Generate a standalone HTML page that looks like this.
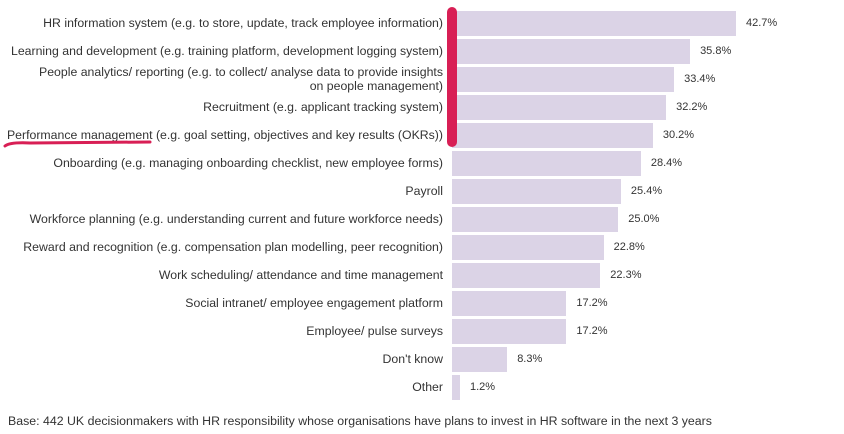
<!DOCTYPE html>
<html><head><style>
body{margin:0;background:#fff;width:844px;height:434px;overflow:hidden;position:relative;font-family:"Liberation Sans",Arial,sans-serif;color:#333}
.l{position:absolute;right:401px;font-size:12.3px;text-align:right;line-height:14px;white-space:nowrap}
.b{position:absolute;left:452px;height:25px;background:#dbd3e6}
.v{position:absolute;font-size:11px;line-height:13px}
</style></head><body>
<div id="c"></div>
<div style="position:absolute;left:447px;top:7px;width:10px;height:140px;background:#d81f55;border-radius:5px"></div>
<svg style="position:absolute;left:0;top:0" width="844" height="434"><path d="M5 146 Q10 142 30 143 L150 142" stroke="#d81f55" stroke-width="3" fill="none" stroke-linecap="round"/></svg>
<div style="position:absolute;left:8px;top:414px;font-size:12.35px">Base: 442 UK decisionmakers with HR responsibility whose organisations have plans to invest in HR software in the next 3 years</div>
<script>
var d=[["HR information system (e.g. to store, update, track employee information)",42.7],
["Learning and development (e.g. training platform, development logging system)",35.8],
["People analytics/ reporting (e.g. to collect/ analyse data to provide insights<br>on people management)",33.4],
["Recruitment (e.g. applicant tracking system)",32.2],
["Performance management (e.g. goal setting, objectives and key results (OKRs))",30.2],
["Onboarding (e.g. managing onboarding checklist, new employee forms)",28.4],
["Payroll",25.4],
["Workforce planning (e.g. understanding current and future workforce needs)",25.0],
["Reward and recognition (e.g. compensation plan modelling, peer recognition)",22.8],
["Work scheduling/ attendance and time management",22.3],
["Social intranet/ employee engagement platform",17.2],
["Employee/ pulse surveys",17.2],
["Don't know",8.3],["Other",1.2]];
var h="";d.forEach(function(r,i){var t=11+28*i,w=r[1]*6.65,two=r[0].indexOf("<br>")>0;
h+='<div class="b" style="top:'+t+'px;width:'+w+'px"></div>';
h+='<div class="v" style="top:'+(t+6)+'px;left:'+(452+w+10)+'px">'+r[1].toFixed(1)+'%</div>';
h+='<div class="l" style="top:'+(two?t-2:t+5)+'px">'+r[0]+'</div>';});
document.getElementById("c").innerHTML=h;
</script>
</body></html>
